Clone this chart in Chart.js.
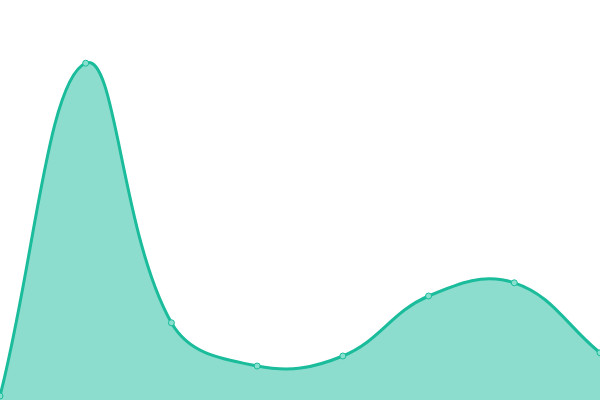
<!DOCTYPE html>
<html>
<head>
<meta charset="utf-8">
<script src="https://cdn.jsdelivr.net/npm/chart.js@4/dist/chart.umd.min.js"></script>
<style>
    html, body { margin: 0; padding: 0; background: #fff; }
    #wrap { width: 600px; height: 400px; }
</style>
</head>
<body>
<div id="wrap"><canvas id="areaChart"></canvas></div>
<script>
const labels = ['1', '2', '3', '4', '5', '6', '7', '8'];
const values = [1, 84.2, 19.3, 8.5, 11, 26, 29.3, 11.8];
const yMin = 0;
const yMax = 100;

document.addEventListener('DOMContentLoaded', () => {
    const ctx = document.getElementById('areaChart').getContext('2d');

    new Chart(ctx, {
        type: 'line',
        data: {
            labels: labels,
            datasets: [{
                data: values,
                borderColor: '#1abc9c',
                backgroundColor: 'rgba(26, 188, 156, 0.5)',
                borderWidth: 3,
                tension: 0.4,
                fill: true,
                pointBackgroundColor: 'rgba(137, 224, 207, 1)',
                pointBorderColor: '#1abc9c',
                pointBorderWidth: 1,
                pointRadius: 3
            }]
        },
        options: {
            responsive: true,
            maintainAspectRatio: false,
            animation: false,
            layout: { padding: 0, autoPadding: false },
            scales: {
                x: { display: false, offset: false },
                y: { display: false, min: yMin, max: yMax }
            },
            plugins: {
                legend: { display: false },
                tooltip: { enabled: false }
            }
        }
    });
});
</script>
</body>
</html>
